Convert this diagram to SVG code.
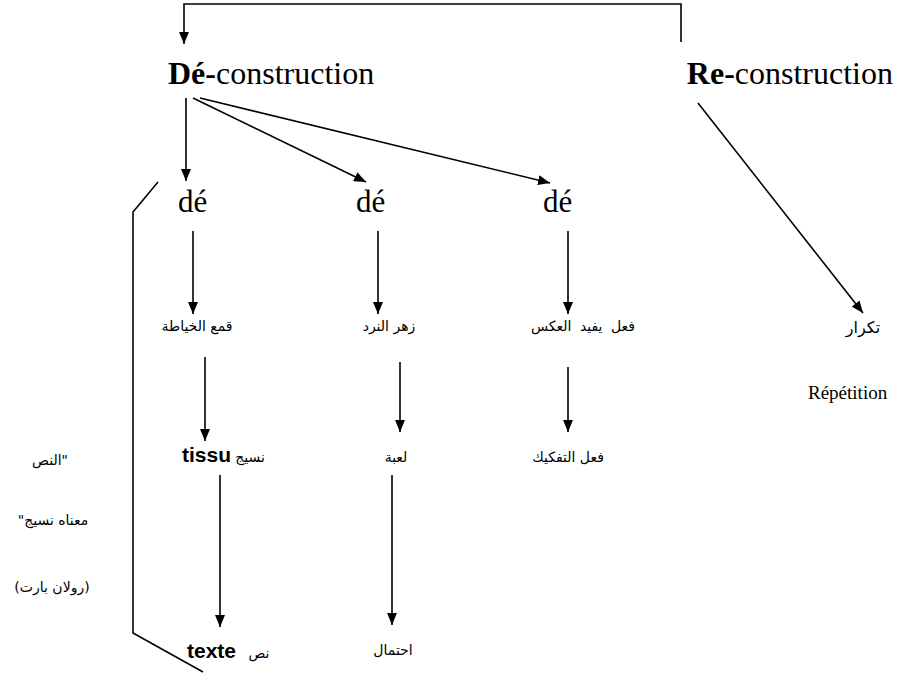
<svg xmlns="http://www.w3.org/2000/svg" width="897" height="686" viewBox="0 0 897 686">
<style>
  .bg { fill: #ffffff; }
  .ln { fill: none; stroke: #000; stroke-width: 1.6; }
  .ar { fill: none; stroke: #000; stroke-width: 1.6; marker-end: url(#ah); }
  .big { font-family: "Liberation Serif", "Times New Roman", serif; font-size: 32px; fill: #000; }
  .de { font-family: "Liberation Serif", "Times New Roman", serif; font-size: 31px; fill: #000; }
  .rep { font-family: "Liberation Serif", "Times New Roman", serif; font-size: 19px; fill: #000; }
  .ara { font-family: "DejaVu Sans", "Noto Sans", sans-serif; font-size: 14px; fill: #000; direction: rtl; text-anchor: middle; }
  .lat { font-family: "Liberation Sans", Arial, sans-serif; font-size: 21px; font-weight: bold; fill: #000; }
  .b { font-weight: bold; }
</style>
<defs>
  <marker id="ah" viewBox="0 0 12 10" refX="12" refY="5" markerWidth="12" markerHeight="10" markerUnits="userSpaceOnUse" orient="auto" preserveAspectRatio="none">
    <path d="M0,0 L12,5 L0,10 Z" fill="#000"/>
  </marker>
</defs>
<rect class="bg" x="0" y="0" width="897" height="686"/>

<g id="connectors">
  <path class="ar" d="M681,42 L681,4 L184,4 L184,44"/>
  <path class="ar" d="M186,98 L186,181"/>
  <path class="ar" d="M193,98 L366,182"/>
  <path class="ar" d="M200,98 L550,183"/>
  <path class="ar" d="M193,231 L193,314"/>
  <path class="ar" d="M378,231 L378,314"/>
  <path class="ar" d="M568,231 L568,314"/>
  <path class="ar" d="M205,357 L205,441"/>
  <path class="ar" d="M400,362 L400,432"/>
  <path class="ar" d="M568,367 L568,432"/>
  <path class="ar" d="M220,475 L220,627"/>
  <path class="ar" d="M392,475 L392,625"/>
  <path class="ar" d="M698,103 L863,313"/>
  <path class="ln" d="M158,182 L133,212 L133,633 L203,672"/>
</g>

<g id="deconstruction">
  <text class="big" x="168" y="84"><tspan class="b">Dé-</tspan>construction</text>
</g>
<g id="reconstruction">
  <text class="big" x="893" y="84" text-anchor="end"><tspan class="b">Re-</tspan>construction</text>
</g>
<g id="de1"><text class="de" x="178" y="212">dé</text></g>
<g id="de2"><text class="de" x="356" y="212">dé</text></g>
<g id="de3"><text class="de" x="543" y="212">dé</text></g>

<g id="qamaa"><text class="ara" x="197" y="331">قمع الخياطة</text></g>
<g id="zahr"><text class="ara" x="389" y="331">زهر النرد</text></g>
<g id="fiel"><text class="ara" x="583" y="331" style="word-spacing:4px">فعل يفيد العكس</text></g>

<g id="tissu">
  <text class="lat" x="182" y="462">tissu</text>
  <text class="ara" x="250" y="462">نسيج</text>
</g>
<g id="luba"><text class="ara" x="396" y="462">لعبة</text></g>
<g id="tafkik"><text class="ara" x="568" y="462">فعل التفكيك</text></g>

<g id="texte">
  <text class="lat" x="187" y="658">texte</text>
  <text class="ara" x="259" y="658">نص</text>
</g>
<g id="ihtimal"><text class="ara" x="393" y="655">احتمال</text></g>

<g id="barthes">
  <text class="ara" x="50" y="465">"النص</text>
  <text class="ara" x="53" y="525">معناه نسيج"</text>
  <text class="ara" x="52" y="592">(رولان بارت)</text>
</g>

<g id="takrar"><text class="ara" x="863" y="333" style="font-size:16px">تكرار</text></g>
<g id="repetition"><text class="rep" x="808" y="399">Répétition</text></g>
</svg>
